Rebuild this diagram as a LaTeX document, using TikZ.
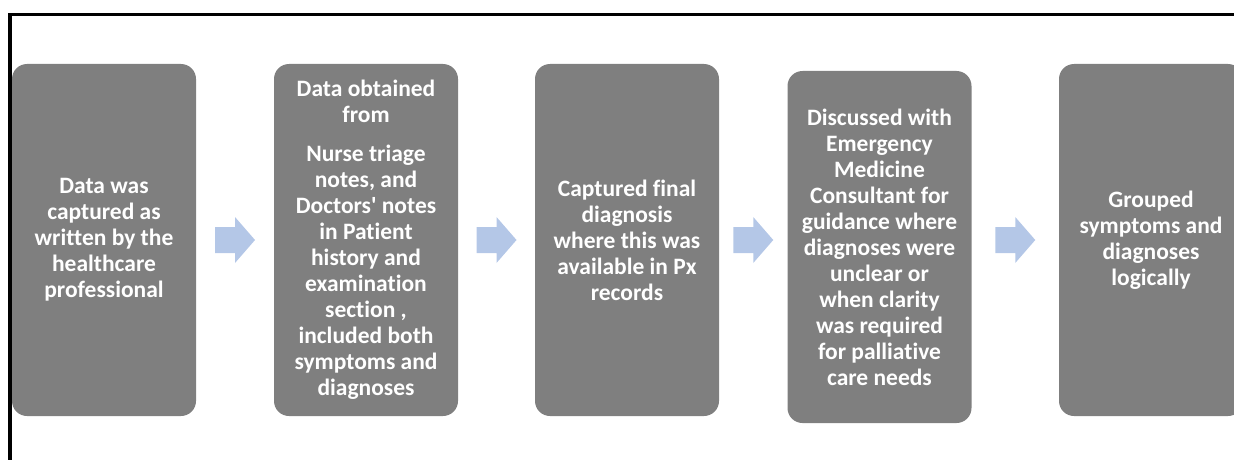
\documentclass[tikz,border=0pt]{standalone}
\usepackage{fontspec}
\newfontfamily\boxfont{Carlito}[Ligatures=NoCommon]
\usetikzlibrary{calc}
\definecolor{boxgray}{HTML}{7F7F7F}
\definecolor{arrowblue}{HTML}{B4C7E7}

\begin{document}
\begin{tikzpicture}[x=1pt, y=-1pt,
    stepbox/.style={fill=boxgray, rounded corners=15pt, minimum width=184pt,
      minimum height=352pt, inner sep=0pt, text=white, align=center,
      font=\boxfont\bfseries\fontsize{23.5}{26}\selectfont},
    pics/blockarr/.style={code={
      \fill[arrowblue] (-20,-13) -- (0,-13) -- (0,-23) -- (20,0)
        -- (0,23) -- (0,13) -- (-20,13) -- cycle;}}]

    \useasboundingbox (0,0) rectangle (1234,460);

    % === 外框 ===
    \draw[line width=3.5pt] (10,460) -- (10,14.5) -- (1234,14.5);

    % === 步骤方框 ===
    \node[stepbox] (S1) at (104,240) {Data was\\captured as\\written by the\\healthcare\\professional};
    \node[stepbox] (S2) at (366,240) {Data obtained\\from\\[13pt]Nurse triage\\notes, and\\Doctors' notes\\in Patient\\history and\\examination\\section ,\\included both\\symptoms and\\diagnoses};
    \node[stepbox] (S3) at (627,240) {Captured final\\diagnosis\\where this was\\available in Px\\records};
    \node[stepbox] (S4) at (879.5,247) {Discussed with\\Emergency\\Medicine\\Consultant for\\guidance where\\diagnoses were\\unclear or\\when clarity\\was required\\for palliative\\care needs};
    \node[stepbox] (S5) at (1151,240) {Grouped\\symptoms and\\diagnoses\\logically};

    % === 方框之间的箭头 ===
    \foreach \a/\b in {S1/S2, S2/S3, S3/S4, S4/S5} {
        \path ($(\a.east)!0.5!(\b.west)$) coordinate (M);
        \pic at (M |- S1.center) {blockarr};
    }

\end{tikzpicture}
\end{document}
